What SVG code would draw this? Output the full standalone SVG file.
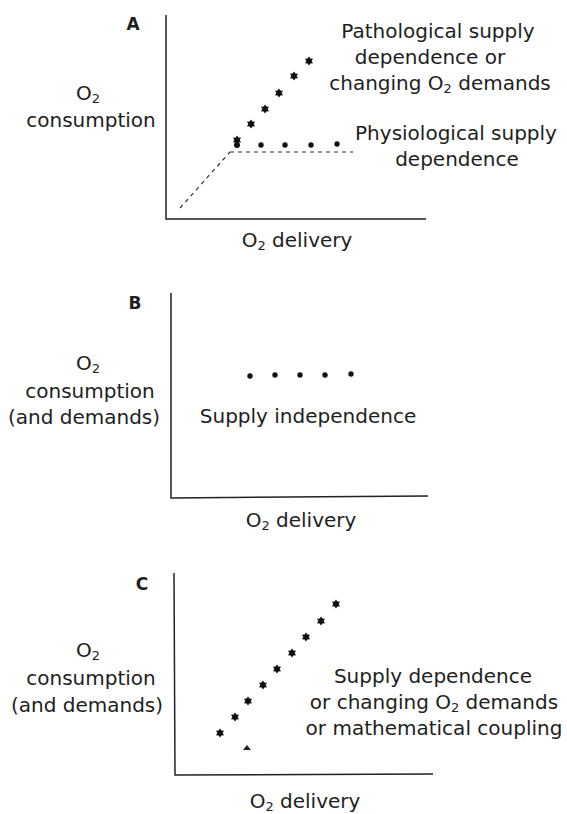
<svg xmlns="http://www.w3.org/2000/svg" xmlns:xlink="http://www.w3.org/1999/xlink" width="567" height="814" viewBox="0 0 567 814">
<style>
text{font-family:"DejaVu Sans","Liberation Sans",sans-serif;font-size:20px;fill:#1e1e1e;text-anchor:middle}
.lbl{font-size:17px;font-weight:bold;text-anchor:middle}
.sub{font-size:13px}
.axis{stroke:#222;stroke-width:1.5;fill:none}
.dash{stroke:#333;stroke-width:1.2;fill:none;stroke-dasharray:4 4}
.dot{fill:#111}
</style>
<defs>
<path id="star" d="M0,-4.6 L1.4,-2.4 L4,-2.3 L2.7,0 L4,2.3 L1.4,2.4 L0,4.6 L-1.4,2.4 L-4,2.3 L-2.7,0 L-4,-2.3 L-1.4,-2.4 Z" fill="#111"/>
</defs>
<rect width="567" height="814" fill="#fff"/>

<g id="panelA">
<text class="lbl" x="133" y="30">A</text>
<text x="88" y="100">O<tspan class="sub" dy="3">2</tspan></text>
<text x="91" y="127">consumption</text>
<path class="axis" d="M166,15 V219 H426"/>
<path class="dash" d="M230,152 H353"/>
<path class="dash" d="M180,208 L230,152" stroke-dasharray="3 6"/>
<g id="A-stars">
<use xlink:href="#star" x="237" y="140"/>
<use xlink:href="#star" x="251" y="124"/>
<use xlink:href="#star" x="265" y="109"/>
<use xlink:href="#star" x="279" y="93"/>
<use xlink:href="#star" x="294" y="76"/>
<use xlink:href="#star" x="309" y="61"/>
</g>
<g id="A-dots">
<circle class="dot" cx="237" cy="145" r="3"/>
<circle class="dot" cx="261" cy="145" r="2.7"/>
<circle class="dot" cx="285" cy="145" r="2.7"/>
<circle class="dot" cx="311" cy="145" r="2.7"/>
<circle class="dot" cx="337" cy="144" r="2.7"/>
</g>
<text x="438" y="38">Pathological supply</text>
<text x="430" y="64">dependence or</text>
<text x="440" y="90">changing O<tspan class="sub" dy="3">2</tspan><tspan dy="-3"> demands</tspan></text>
<text x="456" y="140">Physiological supply</text>
<text x="457" y="166">dependence</text>
<text x="297" y="247">O<tspan class="sub" dy="3">2</tspan><tspan dy="-3"> delivery</tspan></text>
</g>

<g id="panelB">
<text class="lbl" x="135" y="309" font-weight="normal">B</text>
<text x="88" y="370">O<tspan class="sub" dy="3">2</tspan></text>
<text x="90" y="398">consumption</text>
<text x="84" y="424">(and demands)</text>
<path class="axis" d="M171,293 V498 L428,496"/>
<g id="B-dots">
<circle class="dot" cx="250" cy="376" r="2.7"/>
<circle class="dot" cx="275" cy="375" r="2.7"/>
<circle class="dot" cx="300" cy="375" r="2.7"/>
<circle class="dot" cx="325" cy="375" r="2.7"/>
<circle class="dot" cx="351" cy="374" r="2.7"/>
</g>
<text x="308" y="423">Supply independence</text>
<text x="301" y="527">O<tspan class="sub" dy="3">2</tspan><tspan dy="-3"> delivery</tspan></text>
</g>

<g id="panelC">
<text class="lbl" x="142" y="590">C</text>
<text x="88" y="657">O<tspan class="sub" dy="3">2</tspan></text>
<text x="91" y="685">consumption</text>
<text x="87" y="712">(and demands)</text>
<path class="axis" d="M174,573 L175,775 L433,774"/>
<g id="C-stars">
<use xlink:href="#star" x="220" y="733"/>
<use xlink:href="#star" x="235" y="717"/>
<use xlink:href="#star" x="248" y="701"/>
<use xlink:href="#star" x="263" y="685"/>
<use xlink:href="#star" x="277" y="669"/>
<use xlink:href="#star" x="292" y="653"/>
<use xlink:href="#star" x="306" y="637"/>
<use xlink:href="#star" x="321" y="621"/>
<use xlink:href="#star" x="336" y="604"/>
</g>
<path d="M243,750 L247,745 L251,750 Z" fill="#222"/>
<text x="433" y="683">Supply dependence</text>
<text x="434" y="709">or changing O<tspan class="sub" dy="3">2</tspan><tspan dy="-3"> demands</tspan></text>
<text x="434" y="735">or mathematical coupling</text>
<text x="305" y="808">O<tspan class="sub" dy="3">2</tspan><tspan dy="-3"> delivery</tspan></text>
</g>
</svg>
